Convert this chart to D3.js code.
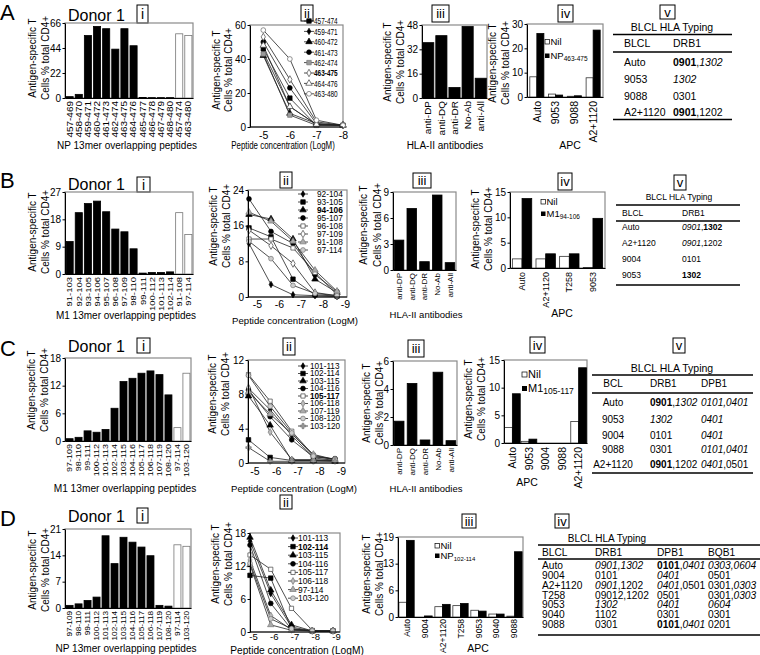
<!DOCTYPE html>
<html><head><meta charset="utf-8">
<script src="https://cdn.jsdelivr.net/npm/d3@7"></script>
<style>body{margin:0;background:#fff}svg{display:block;background:#fff}</style>
</head><body><script>
// ================= DATA =================
// Row A
const aPeptides = ["457-469","458-470","459-471","460-472","461-473","462-474","463-475","464-476","465-477","466-478","467-479","468-480","457-474","463-480"];
const aResponses = [1.2,3.2,55,63,61,43,61,46,0.5,0.3,0.3,0.3,56.5,55];
const aLong = [0,0,0,0,0,0,0,0,0,0,0,0,1,1];
const aYTicks = [0,22,44,66];
const aConc = [-5,-6,-7,-8];
const aConcSeries = ["457-474","459-471","460-472","461-473","462-474","463-475","464-476","463-480"];
const aConcValues = [[46,17,1,1],[44,12,1.5,1],[42,8,2,1],[50,23,2,1],[43,7,1,1],[53,28,3,1],[48,12,1.5,1],[57,40,4,1]];
const aConcTicks = [0,20,40,60];
const aAntibodies = ["anti-DP","anti-DQ","anti-DR","No-Ab","anti-All"];
const aBlocking = [36.4,41,6.9,47,13];
const aBlockTicks = [0,16,32,48];
const aApc = ["Auto","9053","9088","A2+1120"];
const aNil = [8.3,1.2,0.3,7.9];
const aPep = [26.1,0.8,0.5,27.5];
const aApcTicks = [0,10,20,30];
const aTableHeader = ["BLCL","DRB1"];
const aTableRows = [["Auto","**0901**,_1302_"],["9053","_1302_"],["9088","0301"],["A2+1120","**0901**,1202"]];

// Row B
const bPeptides = ["91-103","92-104","93-105","94-106","95-107","96-108","97-109","98-110","99-111","100-112","101-113","102-114","91-108","97-114"];
const bResponses = [10.7,20.2,23.2,24,20.5,14.8,13.9,8.3,0.3,0.5,0.5,0.7,20.2,13];
const bLong = [0,0,0,0,0,0,0,0,0,0,0,0,1,1];
const bYTicks = [0,9,18,27];
const bConc = [-5,-6,-7,-8,-9];
const bConcSeries = ["92-104","93-105","94-106","95-107","96-108","97-109","91-108","97-114"];
const bConcValues = [[12,2.8,0.5,0.3,0.1],[15.5,13.5,4,0.5,0.2],[18.5,17.5,13,4,1],[22,14.7,12,5,1.2],[13,13,11,5.5,0.5],[15,11.5,7.5,1,0.3],[19,17,12.5,6,1.3],[12.5,8.6,2.6,0.8,0.3]];
const bConcTicks = [0,8,16,24];
const bAntibodies = ["anti-DP","anti-DQ","anti-DR","No-Ab","anti-All"];
const bBlocking = [3.45,7.1,0.96,8.65,0.85];
const bBlockTicks = [0,3,6,9];
const bApc = ["Auto","A2+1120","T258","9053"];
const bNil = [1.8,1.8,2.3,0.1];
const bPep = [13.7,2.8,2.8,9.8];
const bApcTicks = [0,5,10,15];
const bTableHeader = ["BLCL","DRB1"];
const bTableRows = [["Auto","_0901_,**1302**"],["A2+1120","_0901_,1202"],["9004","0101"],["9053","**1302**"]];

// Row C
const cPeptides = ["97-109","98-110","99-111","100-112","101-113","102-114","103-115","104-116","105-117","106-118","107-119","108-120","97-114","103-120"];
const cResponses = [0.5,0.8,2.2,1.9,2.5,7.1,12.9,13.6,14.7,15.2,14.4,10,2.9,14.7];
const cLong = [0,0,0,0,0,0,0,0,0,0,0,0,1,1];
const cYTicks = [0,6,12,18];
const cConc = [-5,-6,-7,-8,-9];
const cConcSeries = ["101-113","102-114","103-115","104-116","105-117","106-118","107-119","108-120","103-120"];
const cConcValues = [[8.7,6.2,3.2,0.6,0.3],[2.7,0.65,0.3,0.3,0.3],[7.8,4.4,0.3,0.3,0.2],[8.5,5.4,2.7,0.7,0.5],[10.3,7.2,3.7,0.9,0.4],[8.8,3.6,0.4,0.4,0.3],[8.3,5.7,3.4,1.0,0.4],[10.2,6.6,3.5,0.8,0.4],[1.8,0.2,0.2,0.2,0.2]];
const cConcTicks = [0,4,8,12];
const cAntibodies = ["anti-DP","anti-DQ","anti-DR","No-Ab","anti-All"];
const cBlocking = [1.7,4.4,0.36,5.2,0.31];
const cBlockTicks = [0,2,4,6];
const cApc = ["Auto","9053","9004","9088","A2+1120"];
const cNil = [2.8,0.3,0,0,3.9];
const cPep = [8.9,0.7,0,0,13.6];
const cApcTicks = [0,5,10,15];
const cTableHeader = ["BCL","DRB1","DPB1"];
const cTableRows = [["Auto","**0901**,_1302_","_0101,0401_"],["9053","_1302_","_0401_"],["9004","0101","_0401_"],["9088","0301","_0101,0401_"],["A2+1120","**0901**,1202","_0401_,0501"]];

// Row D
const dPeptides = ["97-109","98-110","99-111","100-112","101-113","102-114","103-115","104-116","105-117","106-118","107-119","108-120","97-114","103-120"];
const dResponses = [0.7,1.1,2.0,2.9,19.2,11.8,18.8,17.5,16.2,13.9,0.7,0.5,16.8,16.4];
const dLong = [0,0,0,0,0,0,0,0,0,0,0,0,1,1];
const dYTicks = [0,7,14,21];
const dConc = [-5,-6,-7,-8,-9];
const dConcSeries = ["101-113","102-114","103-115","104-116","105-117","106-118","97-114","103-120"];
const dConcValues = [[16.5,7.0,0.9,0.2,0.2],[10.3,9.8,0.6,0.2,0.2],[17.2,7.6,1.3,0.2,0.2],[15.8,5.2,0.5,0.2,0.2],[14.0,11.4,4.3,0.3,0.2],[13.1,3.0,0.4,0.2,0.2],[12.2,1.3,0.3,0.2,0.2],[12.5,2.4,0.6,0.2,0.2]];
const dConcTicks = [0,6,12,18];
const dApc = ["Auto","9004","A2+1120","T258","9053","9040","9088"];
const dNil = [3.5,0,2.45,2.7,1.6,0.7,0.2];
const dPep = [18.2,0.25,3.0,3.2,1.4,0.7,15.5];
const dApcTicks = [0,19/3,38/3,19];
const dTableHeader = ["BLCL","DRB1","DPB1","BQB1"];
const dTableRows = [
  ["Auto","_0901,1302_","**0101**,_0401_","_0303,0604_"],
  ["9004","0101","_0401_","0501"],
  ["A2+1120","_0901_,1202","_0401_,0501","0301,_0303_"],
  ["T258","09012,1202","0501","0301,_0303_"],
  ["9053","_1302_","_0401_","_0604_"],
  ["9040","1102","0301","0301"],
  ["9088","0301","**0101**,_0401_","0201"]];

// marker styles (not data)
const aMarkers = ["square","diamond","triangle","circle","graySquare","openDiamond","openTriangle","openCircle"];
const bMarkers = ["diamond","square","triangle","circle","openSquare","openDiamond","grayTriangle","grayCircle"];
const cMarkers = ["diamond","square","triangle","circle","openSquare","grayDiamond","grayTriangle","grayCircle","star"];
const dMarkers = ["diamond","square","triangle","circle","openSquare","grayDiamond","grayTriangle","grayCircle"];

// ================= DRAWING =================
const FONT = '"Liberation Sans", Arial, Helvetica, sans-serif';
const svg = d3.select("body").append("svg").attr("width",760).attr("height",655)
  .attr("font-family",FONT);

function txt(g,x,y,s,o={}){
  const t = g.append("text").attr("font-size",o.size||10).attr("fill","#000").attr("font-family",FONT);
  if(o.anchor) t.attr("text-anchor",o.anchor);
  if(o.weight) t.attr("font-weight",o.weight);
  if(o.rotate||o.sx){
    let tr=`translate(${x},${y})`;
    if(o.rotate) tr+=` rotate(${o.rotate})`;
    if(o.sx) tr+=` scale(${o.sx},1)`;
    t.attr("transform",tr);
  } else t.attr("x",x).attr("y",y);
  t.text(s);
  return t;
}
function rich(g,x,y,s,o={}){
  const t=g.append("text").attr("x",x).attr("y",y).attr("font-size",o.size||10).attr("font-family",FONT);
  if(o.anchor) t.attr("text-anchor",o.anchor);
  s.split(/(\*\*[^*]+\*\*|_[^_]+_)/).filter(Boolean).forEach(seg=>{
    const ts=t.append("tspan");
    if(seg.startsWith("**")) ts.attr("font-weight","bold").text(seg.slice(2,-2));
    else if(seg.startsWith("_")) ts.attr("font-style","italic").text(seg.slice(1,-1));
    else ts.text(seg);
  });
}
function frame(g,x0,y0,x1,y1){
  g.append("rect").attr("x",x0).attr("y",y0).attr("width",x1-x0).attr("height",y1-y0)
    .attr("fill","none").attr("stroke","#8a8a8a").attr("stroke-width",1.2);
}
function yAxis(g,y,x0,ticks,size,fmt){
  const a=g.append("g").attr("transform",`translate(${x0},0)`)
    .call(d3.axisLeft(y).tickValues(ticks).tickSize(2.5).tickSizeOuter(0).tickPadding(1.5).tickFormat(fmt||(d=>d)));
  a.attr("font-family",FONT);
  a.selectAll("text").attr("font-size",size||10);
  a.select(".domain").attr("stroke","#000");
}
function yTitle(g,xa,xb,cy,size){
  txt(g,xa,cy,"Antigen-specific T",{size:size||10,anchor:"middle",rotate:-90});
  txt(g,xb,cy,"Cells % total CD4+",{size:size||10,anchor:"middle",rotate:-90});
}
function xCatAxis(g,x,y1,size,pad,sy){
  const a=g.append("g").attr("transform",`translate(0,${y1})`)
    .call(d3.axisBottom(x).tickSize(0).tickSizeOuter(0).tickPadding(0));
  a.attr("font-family",FONT);
  a.select(".domain").attr("stroke","#000");
  a.selectAll(".tick text").attr("transform",`rotate(-90) scale(1,${sy||1})`).attr("x",-(pad||3)).attr("y",0)
    .attr("dy","0.35em").attr("text-anchor","end").attr("font-size",size);
}
function box(x,y,w,h,s,size){
  svg.append("rect").attr("x",x).attr("y",y).attr("width",w).attr("height",h).attr("fill","#fff").attr("stroke","#000").attr("stroke-width",1);
  txt(svg,x+w/2,y+h/2+size*0.36,s,{size:size,anchor:"middle"});
}

function barPanel(p){
  const g=svg.append("g");
  const x=d3.scaleBand().domain(p.cats).range([p.x0,p.x1]).paddingInner(p.pi).paddingOuter(p.po);
  const y=d3.scaleLinear().domain([0,p.ticks[p.ticks.length-1]]).range([p.y1,p.y0]);
  frame(g,p.x0,p.y0,p.x1,p.y1);
  g.selectAll("rect.bar").data(p.vals).join("rect").attr("class","bar")
    .attr("x",(d,i)=>x(p.cats[i])).attr("width",x.bandwidth())
    .attr("y",d=>y(d)).attr("height",d=>p.y1-y(d))
    .attr("fill",(d,i)=>p.open&&p.open[i]?"#fff":"#000")
    .attr("stroke",(d,i)=>p.open&&p.open[i]?"#777":"#000").attr("stroke-width",0.8);
  yAxis(g,y,p.x0,p.ticks,p.tickSize);
  xCatAxis(g,x,p.y1,p.labelSize,p.labelPad,p.sy);
  yTitle(g,p.ytx[0],p.ytx[1],p.ycy,p.ytSize);
  txt(g,p.titleX,p.titleY,p.title,{size:p.titleSize||10,anchor:"middle"});
}

function groupPanel(p){
  const g=svg.append("g");
  const x=d3.scaleBand().domain(p.cats).range([p.x0,p.x1]).paddingInner(p.pi).paddingOuter(p.po);
  const xi=d3.scaleBand().domain(["nil","pep"]).range([0,x.bandwidth()]);
  const y=d3.scaleLinear().domain([0,p.ticks[p.ticks.length-1]]).range([p.y1,p.y0]);
  frame(g,p.x0,p.y0,p.x1,p.y1);
  const grp=g.selectAll("g.grp").data(p.cats).join("g").attr("transform",d=>`translate(${x(d)},0)`);
  grp.append("rect").attr("x",xi("nil")).attr("width",xi.bandwidth())
    .attr("y",(d,i)=>y(p.nil[i])).attr("height",(d,i)=>p.y1-y(p.nil[i]))
    .attr("fill","#fff").attr("stroke","#333").attr("stroke-width",0.8);
  grp.append("rect").attr("x",xi("pep")).attr("width",xi.bandwidth())
    .attr("y",(d,i)=>y(p.pep[i])).attr("height",(d,i)=>p.y1-y(p.pep[i]))
    .attr("fill","#000").attr("stroke","#000").attr("stroke-width",0.8);
  yAxis(g,y,p.x0,p.ticks,p.tickSize,p.fmt);
  xCatAxis(g,x,p.y1,p.labelSize,p.labelPad,p.sy);
  yTitle(g,p.ytx[0],p.ytx[1],p.ycy,p.ytSize);
  txt(g,p.titleX,p.titleY,"APC",{size:p.titleSize||10.5,anchor:"middle"});
  const L=p.leg;
  g.append("rect").attr("x",L.x).attr("y",L.y1-L.sq-1).attr("width",L.sq).attr("height",L.sq).attr("fill","#fff").attr("stroke","#000").attr("stroke-width",0.7);
  txt(g,L.x+L.sq+1,L.y1,"Nil",{size:L.size});
  g.append("rect").attr("x",L.x).attr("y",L.y2-L.sq-1).attr("width",L.sq).attr("height",L.sq).attr("fill","#000");
  const t=txt(g,L.x+L.sq+1,L.y2,p.pepName,{size:L.size});
  t.append("tspan").attr("font-size",L.subSize).attr("dy",2).text(p.pepSub);
}

const MK={
  square:{t:d3.symbolSquare,f:"#000",s:"#000",a:20},
  diamond:{t:d3.symbolDiamond,f:"#000",s:"#000",a:12},
  triangle:{t:d3.symbolTriangle,f:"#000",s:"#000",a:18},
  circle:{t:d3.symbolCircle,f:"#000",s:"#000",a:18},
  graySquare:{t:d3.symbolSquare,f:"#9a9a9a",s:"#777",a:20},
  openSquare:{t:d3.symbolSquare,f:"#fff",s:"#444",a:18},
  openDiamond:{t:d3.symbolDiamond,f:"#fff",s:"#444",a:16},
  openTriangle:{t:d3.symbolTriangle,f:"#fff",s:"#444",a:18},
  openCircle:{t:d3.symbolCircle,f:"#fff",s:"#666",a:18},
  grayDiamond:{t:d3.symbolDiamond,f:"#bbb",s:"#777",a:14},
  grayTriangle:{t:d3.symbolTriangle,f:"#aaa",s:"#777",a:18},
  grayCircle:{t:d3.symbolCircle,f:"#ccc",s:"#777",a:18},
  star:{t:d3.symbolCross,f:"#999",s:"#777",a:16}
};

function linePanel(p){
  const g=svg.append("g");
  const x=d3.scaleLinear().domain(p.xd).range(p.xr);
  const y=d3.scaleLinear().domain([0,p.ticks[p.ticks.length-1]]).range([p.y1,p.y0]);
  frame(g,p.x0,p.y0,p.x1,p.y1);
  const line=d3.line().x((d,i)=>x(p.conc[i])).y(d=>y(d));
  p.values.forEach(v=>g.append("path").attr("d",line(v)).attr("fill","none").attr("stroke","#222").attr("stroke-width",0.8));
  p.values.forEach((v,k)=>{
    const m=MK[p.markers[k]];
    g.selectAll(null).data(v).join("path")
      .attr("transform",(d,i)=>`translate(${x(p.conc[i])},${y(d)})`)
      .attr("d",d3.symbol(m.t,m.a)()).attr("fill",m.f).attr("stroke",m.s).attr("stroke-width",0.7);
  });
  yAxis(g,y,p.x0,p.ticks,p.tickSize);
  const xa=g.append("g").attr("transform",`translate(${p.ldx||0},${p.y1})`)
    .call(d3.axisBottom(x).tickValues(p.conc).tickFormat(d=>String(d)).tickSize(0).tickPadding(p.lpad));
  xa.attr("font-family",FONT);
  xa.select(".domain").remove();
  xa.selectAll("text").attr("font-size",p.xTickSize||10.5);
  g.append("line").attr("x1",p.x0).attr("x2",p.x1).attr("y1",p.y1).attr("y2",p.y1).attr("stroke","#000");
  yTitle(g,p.ytx[0],p.ytx[1],p.ycy,p.ytSize);
  txt(g,p.titleX,p.titleY,"Peptide concentration (LogM)",{size:p.titleSize,anchor:"middle",sx:p.titleSx});
  const L=p.leg;
  p.series.forEach((name,k)=>{
    const ly=L.y+k*L.dy;
    g.append("line").attr("x1",L.x-5).attr("x2",L.x+5).attr("y1",ly).attr("y2",ly).attr("stroke","#222").attr("stroke-width",0.8);
    const m=MK[p.markers[k]];
    g.append("path").attr("transform",`translate(${L.x},${ly})`).attr("d",d3.symbol(m.t,m.a)()).attr("fill",m.f).attr("stroke",m.s).attr("stroke-width",0.7);
    txt(g,L.tx,ly+L.size*0.36,name,{size:L.size,weight:name===p.bold?"bold":null,sx:L.sx});
  });
}

function table(p){
  const g=svg.append("g");
  txt(g,p.titleX,p.titleY,"BLCL HLA Typing",{size:p.titleSize,anchor:"middle"});
  p.lines.forEach(ly=>g.append("line").attr("x1",p.x0).attr("x2",p.x1).attr("y1",ly).attr("y2",ly).attr("stroke","#000").attr("stroke-width",p.lw||1.6));
  p.header.forEach((h,j)=>txt(g,p.cols[j],p.headerY,h,{size:p.size,anchor:j===0&&p.firstMid?"middle":"start"}));
  p.rows.forEach((r,i)=>r.forEach((c,j)=>rich(g,p.cols[j],p.rowYs[i],c,{size:p.size,anchor:j===0&&p.firstMid?"middle":"start"})));
}

// ---- letters, donor labels, boxes ----
[["A",20],["B",188],["C",356],["D",526]].forEach(([s,y])=>txt(svg,0,y,s,{size:22}));
[21,190,352,522].forEach(y=>txt(svg,68,y,"Donor 1",{size:16}));
box(137,5,11,18,"i",14); box(301,5,12,16,"ii",13); box(432,5,17,17,"iii",13); box(558,5,15,17,"iv",13); box(660,5,15,14,"v",13);
box(137,177,13,15,"i",14); box(280,172,12,16,"ii",13); box(413,173,18,15,"iii",13); box(558,173,14,17,"iv",13); box(674,175,12,15,"v",13);
box(137,338,13,15,"i",14); box(283,338,12,17,"ii",13); box(408,340,16,17,"iii",13); box(530,337,15,16,"iv",13); box(673,338,12,15,"v",13);
box(137,508,11,15,"i",14); box(280,495,12,14,"ii",13); box(462,514,14,14,"iii",13); box(555,514,14,14,"iv",13);

// ---- Row A ----
barPanel({x0:65,x1:193,y0:23,y1:98,cats:aPeptides,vals:aResponses,open:aLong,ticks:aYTicks,pi:0.22,po:0.12,
  labelSize:10,labelPad:3,sy:0.82,ytx:[36,49],ycy:58,title:"NP 13mer overlapping peptides",titleX:127,titleY:149,titleSize:10});
linePanel({x0:250,x1:343,y0:25,y1:127,xd:[-4.5,-8],xr:[250,343],conc:aConc,values:aConcValues,series:aConcSeries,markers:aMarkers,bold:"463-475",
  ticks:aConcTicks,lpad:5,ytx:[220,232],ycy:70,titleX:283,titleY:149,titleSize:10,titleSx:0.79,
  leg:{x:309,tx:314,y:21,dy:10.4,size:9.5,sx:0.68}});
barPanel({x0:422,x1:487,y0:25,y1:98,cats:aAntibodies,vals:aBlocking,ticks:aBlockTicks,pi:0.15,po:0.05,
  labelSize:10,labelPad:3,sy:0.9,ytx:[391,404],ycy:62,title:"HLA-II antibodies",titleX:445,titleY:149,titleSize:10});
groupPanel({x0:527,x1:603,y0:24,y1:97,cats:aApc,nil:aNil,pep:aPep,ticks:aApcTicks,pi:0.25,po:0.15,
  labelSize:10.5,labelPad:4,ytx:[496,509],ycy:63,titleX:570,titleY:149,titleSize:10.5,
  pepName:"NP",pepSub:"463-475",leg:{x:545,sq:4.5,y1:45,y2:59,size:9.5,subSize:6.5}});
table({x0:613,x1:732,titleX:672,titleY:31,titleSize:10.5,lines:[34.5,52,119.5],header:aTableHeader,headerY:46.5,cols:[624,673],
  rows:aTableRows,rowYs:[66,83,100,116],size:10.5});

// ---- Row B ----
barPanel({x0:65,x1:193,y0:192,y1:274,cats:bPeptides,vals:bResponses,open:bLong,ticks:bYTicks,pi:0.22,po:0.12,
  labelSize:9.5,labelPad:3,sy:0.85,ytx:[36,49],ycy:232,title:"M1 13mer overlapping peptides",titleX:126,titleY:319,titleSize:10});
linePanel({x0:248,x1:347,y0:190,y1:297,xd:[-5,-9],xr:[249,337],ldx:8,conc:bConc,values:bConcValues,series:bConcSeries,markers:bMarkers,bold:"94-106",
  ticks:bConcTicks,lpad:4,ytx:[217,230],ycy:226,titleX:295,titleY:324,titleSize:9.6,
  leg:{x:303,tx:317,y:194,dy:8,size:8.3}});
barPanel({x0:393,x1:456,y0:192,y1:270,cats:bAntibodies,vals:bBlocking,ticks:bBlockTicks,pi:0.25,po:0.1,
  labelSize:8,labelPad:3,ytx:[367,381],ycy:225,title:"HLA-II antibodies",titleX:426,titleY:318,titleSize:9.5});
groupPanel({x0:510,x1:605,y0:192,y1:268,cats:bApc,nil:bNil,pep:bPep,ticks:bApcTicks,pi:0.18,po:0.1,
  labelSize:9,labelPad:4,ytx:[479,492],ycy:229,titleX:562,titleY:317,titleSize:10.5,
  pepName:"M1",pepSub:"94-106",leg:{x:541,sq:4.5,y1:205,y2:217,size:9.5,subSize:6.5}});
table({x0:616,x1:740,titleX:679,titleY:200,titleSize:8.5,lines:[205,221,285],header:bTableHeader,headerY:216,cols:[622,682],
  rows:bTableRows,rowYs:[230,246,262,278],size:8.5});

// ---- Row C ----
barPanel({x0:65,x1:191,y0:358,y1:441,cats:cPeptides,vals:cResponses,open:cLong,ticks:cYTicks,pi:0.22,po:0.12,
  labelSize:9,labelPad:3,sy:0.85,ytx:[35,48],ycy:390,title:"M1 13mer overlapping peptides",titleX:125,titleY:492,titleSize:10.2});
linePanel({x0:248,x1:345,y0:360,y1:463,xd:[-5,-9],xr:[248.5,335],ldx:6,conc:cConc,values:cConcValues,series:cConcSeries,markers:cMarkers,bold:"105-117",
  ticks:cConcTicks,lpad:5,ytx:[216,229],ycy:394,titleX:294,titleY:492,titleSize:9.6,
  leg:{x:303,tx:310,y:366,dy:7.5,size:8.2}});
barPanel({x0:393,x1:457,y0:361,y1:445,cats:cAntibodies,vals:cBlocking,ticks:cBlockTicks,pi:0.25,po:0.1,
  labelSize:8,labelPad:3,ytx:[370,383],ycy:403,title:"HLA-II antibodies",titleX:426,titleY:492,titleSize:9.5});
groupPanel({x0:504,x1:587,y0:360,y1:443,cats:cApc,nil:cNil,pep:cPep,ticks:cApcTicks,pi:0.05,po:0.03,
  labelSize:10.5,labelPad:4,ytx:[472,485],ycy:399,titleX:527,titleY:486,titleSize:10.5,tickSize:10,
  pepName:"M1",pepSub:"105-117",leg:{x:522,sq:5,y1:378,y2:392,size:11,subSize:8.5}});
table({x0:592,x1:753,titleX:672,titleY:372,titleSize:10.5,lines:[375,393,473],header:cTableHeader,headerY:387,cols:[613,650,701],firstMid:true,
  rows:cTableRows,rowYs:[406,423,439,453,468],size:10});

// ---- Row D ----
barPanel({x0:65,x1:191,y0:529,y1:608,cats:dPeptides,vals:dResponses,open:dLong,ticks:dYTicks,pi:0.22,po:0.12,
  labelSize:8.2,labelPad:3,sy:0.9,ytx:[36,49],ycy:570,title:"NP 13mer overlapping peptides",titleX:126,titleY:652,titleSize:10.1});
linePanel({x0:250,x1:340,y0:533,y1:632,xd:[-5,-9],xr:[250,333],ldx:3,conc:dConc,values:dConcValues,series:dConcSeries,markers:dMarkers,bold:"102-114",
  ticks:dConcTicks,lpad:1.5,xTickSize:9.5,ytx:[219,232],ycy:564,titleX:297,titleY:653.5,titleSize:10.2,
  leg:{x:293,tx:298,y:538,dy:8.6,size:8.4}});
groupPanel({x0:398,x1:523,y0:537,y1:617,cats:dApc,nil:dNil,pep:dPep,ticks:dApcTicks,pi:0.15,po:0.05,fmt:d3.format(".0f"),
  labelSize:8.6,labelPad:2,ytx:[370,383],ycy:574,titleX:478,titleY:652,titleSize:10.5,tickSize:10,
  pepName:"NP",pepSub:"102-114",leg:{x:435,sq:4.5,y1:549,y2:559,size:9.5,subSize:6}});
table({x0:538,x1:760,titleX:607,titleY:542,titleSize:10,lines:[545,559,635],header:dTableHeader,headerY:556,cols:[542,595,657,708],
  rows:dTableRows,rowYs:[569,579,589,599,608,618,628],size:10.2});
</script></body></html>
